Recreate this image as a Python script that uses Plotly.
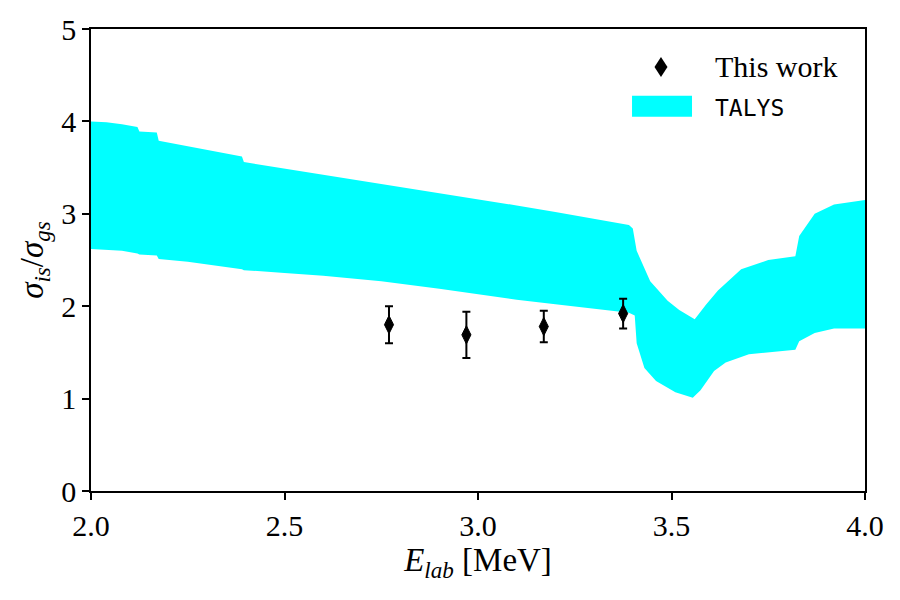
import plotly.graph_objects as go

# ---- data ----
talys_upper_e = [2.00, 2.04, 2.08, 2.12, 2.125, 2.17, 2.175, 2.25, 2.30, 2.39, 2.395, 2.50,
                 2.60, 2.75, 2.90, 3.00, 3.10, 3.20, 3.30, 3.39, 3.40, 3.41, 3.445, 3.49,
                 3.52, 3.56, 3.59, 3.62, 3.68, 3.75, 3.82, 3.83, 3.87, 3.92, 4.00]
talys_upper = [4.00, 3.99, 3.97, 3.94, 3.89, 3.88, 3.79, 3.73, 3.69, 3.62, 3.56, 3.49,
               3.43, 3.33, 3.23, 3.16, 3.09, 3.02, 2.95, 2.88, 2.84, 2.60, 2.27, 2.06,
               1.96, 1.86, 2.02, 2.17, 2.40, 2.50, 2.54, 2.76, 3.00, 3.10, 3.15]
talys_lower_e = [2.00, 2.04, 2.08, 2.12, 2.125, 2.17, 2.175, 2.25, 2.30, 2.39, 2.395, 2.50,
                 2.60, 2.75, 2.90, 3.00, 3.10, 3.20, 3.30, 3.39, 3.405, 3.41, 3.43, 3.46,
                 3.51, 3.555, 3.575, 3.61, 3.64, 3.70, 3.82, 3.83, 3.87, 3.92, 4.00]
talys_lower = [2.62, 2.61, 2.60, 2.57, 2.56, 2.55, 2.51, 2.48, 2.45, 2.40, 2.39, 2.36,
               2.33, 2.27, 2.19, 2.13, 2.07, 2.02, 1.97, 1.93, 1.90, 1.60, 1.33, 1.19,
               1.07, 1.01, 1.09, 1.30, 1.39, 1.48, 1.53, 1.62, 1.71, 1.76, 1.76]

work_e = [2.77, 2.97, 3.17, 3.375]
work_ratio = [1.80, 1.69, 1.78, 1.92]
work_err = [0.20, 0.25, 0.17, 0.16]

x_ticks = [2.0, 2.5, 3.0, 3.5, 4.0]
y_ticks = [0, 1, 2, 3, 4, 5]

FONT = "Liberation Serif"
FS = 30
TS = 33

fig = go.Figure()

fig.add_trace(go.Scatter(
    x=talys_upper_e + talys_lower_e[::-1],
    y=talys_upper + talys_lower[::-1],
    fill="toself", fillcolor="#00ffff", mode="lines",
    line=dict(width=0, color="#00ffff"), name="TALYS", showlegend=False,
    hoverinfo="skip"))

fig.add_trace(go.Scatter(
    x=work_e, y=work_ratio, mode="markers", name="This work", showlegend=False,
    marker=dict(symbol="diamond-tall", size=13, color="black",
                line=dict(width=1, color="black")),
    error_y=dict(type="data", array=work_err, color="black", thickness=2, width=4)))

# manual legend
fig.add_shape(type="path", xref="paper", yref="paper", xsizemode="pixel", ysizemode="pixel",
              xanchor=0.7364, yanchor=0.918, path="M0,-10 L6.5,0 L0,10 L-6.5,0 Z",
              fillcolor="black", line=dict(width=0))
fig.add_shape(type="rect", xref="paper", yref="paper", x0=0.699, x1=0.7765, y0=0.810, y1=0.8556,
              fillcolor="#00ffff", line=dict(width=0))
fig.add_annotation(x=0.803, y=0.918, xref="paper", yref="paper", xanchor="left", yanchor="middle",
                   text="This work", showarrow=False, font=dict(family=FONT, size=FS, color="black"))
fig.add_annotation(x=0.803, y=0.830, xref="paper", yref="paper", xanchor="left", yanchor="middle",
                   text="TALYS", showarrow=False,
                   font=dict(family="DejaVu Sans Mono, Liberation Mono, monospace", size=23,
                             color="black"))

axis_common = dict(showline=True, linecolor="black", linewidth=1.5, mirror=True,
                   ticks="outside", ticklen=7, tickwidth=1.5, tickcolor="black",
                   showgrid=False, zeroline=False,
                   tickfont=dict(family=FONT, size=FS, color="black"))

fig.update_layout(
    width=900, height=600,
    margin=dict(l=91, r=35, t=27, b=109),
    paper_bgcolor="white", plot_bgcolor="white",
    xaxis=dict(range=[2, 4], tickvals=x_ticks, ticktext=[f"{v:.1f}" for v in x_ticks],
               title=dict(text="<i>E</i><sub><i>lab</i></sub> [MeV]",
                          font=dict(family=FONT, size=TS, color="black"), standoff=3),
               **axis_common),
    yaxis=dict(range=[0, 5], tickvals=y_ticks, ticktext=[str(v) for v in y_ticks],
               title=dict(text="<i>σ</i><sub><i>is</i></sub>/<i>σ</i><sub><i>gs</i></sub>",
                          font=dict(family=FONT, size=TS, color="black"), standoff=8),
               **axis_common),
    showlegend=False,
)

fig.write_html("out.html")
